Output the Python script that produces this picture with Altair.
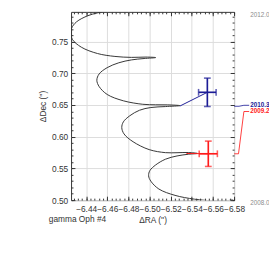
import altair as alt
import pandas as pd
import numpy as np

# ---- track (parallax + proper motion path) ----
track_ra = [-6.5792, -6.5700, -6.5608, -6.5425, -6.5241, -6.5088, -6.5012, -6.4991,
            -6.5003, -6.5058, -6.5150, -6.5260, -6.5370, -6.5452, -6.5370, -6.5260,
            -6.5150, -6.4996, -6.4844, -6.4758, -6.4737, -6.4752, -6.4813, -6.4905,
            -6.5012, -6.5150, -6.5287, -6.5168, -6.5058, -6.4936, -6.4752, -6.4599,
            -6.4523, -6.4501, -6.4523, -6.4599, -6.4709, -6.4828, -6.4948, -6.5058,
            -6.4966, -6.4828, -6.4672, -6.4507, -6.4354, -6.4269, -6.4257, -6.4262,
            -6.4308, -6.4416, -6.4507, -6.4599]
track_dec = [0.5003, 0.4987, 0.4987, 0.5015, 0.5075, 0.5175, 0.5299, 0.5384,
             0.5466, 0.5555, 0.5645, 0.5697, 0.5724, 0.5737, 0.5751, 0.5748,
             0.5749, 0.5797, 0.5921, 0.6045, 0.6145, 0.6234, 0.6331, 0.6418,
             0.6461, 0.6476, 0.6491, 0.6503, 0.6504, 0.6512, 0.6567, 0.6667,
             0.6791, 0.6891, 0.6991, 0.7090, 0.7167, 0.7212, 0.7234, 0.7249,
             0.7257, 0.7252, 0.7267, 0.7313, 0.7413, 0.7537, 0.7637, 0.7712,
             0.7812, 0.7910, 0.7954, 0.7988]

# ---- observations ----
obs_epoch = ["2009.2", "2010.3"]
obs_ra = [-6.5556, -6.5547]
obs_dec = [0.5731, 0.6701]
obs_ra_err = [0.0086, 0.0083]
obs_dec_err = [0.0200, 0.0224]
obs_track_ra = [-6.5349, -6.5287]
obs_track_dec = [0.5736, 0.6484]

# leader lines to the epoch labels (outside the frame)
leader_epoch = ["2009.2"] * 4 + ["2010.3"] * 4
leader_ra = [-6.5801, -6.5842, -6.5893, -6.5943, -6.5801, -6.5847, -6.5893, -6.5943]
leader_dec = [0.5731, 0.5731, 0.6398, 0.6398, 0.6481, 0.6481, 0.6496, 0.6496]
label_ra = [-6.5952, -6.5952]
label_dec = [0.6398, 0.6496]

edge_labels = ["2012.0", "2008.0"]
edge_ra = [-6.5952, -6.5952]
edge_dec = [0.7925, 0.4951]

x_major = [-6.44, -6.46, -6.48, -6.50, -6.52, -6.54, -6.56, -6.58]
x_minor = [round(-6.428 - 0.004 * k, 3) for k in range(39)]
y_major = [0.50, 0.55, 0.60, 0.65, 0.70, 0.75]
y_minor = [round(0.50 + 0.01 * k, 2) for k in range(30)]

W, H = 168, 194
INK = "#333333"

track_df = pd.DataFrame({"ra": track_ra, "dec": track_dec, "i": range(len(track_ra))})
obs_df = pd.DataFrame({"epoch": obs_epoch, "ra": obs_ra, "dec": obs_dec,
                       "ra_err": obs_ra_err, "dec_err": obs_dec_err})
obs_df["ra_lo"] = obs_df.ra - obs_df.ra_err
obs_df["ra_hi"] = obs_df.ra + obs_df.ra_err
obs_df["dec_lo"] = obs_df.dec - obs_df.dec_err
obs_df["dec_hi"] = obs_df.dec + obs_df.dec_err

conn_rows = []
for k, e in enumerate(obs_epoch):
    conn_rows.append({"epoch": e, "ra": obs_track_ra[k], "dec": obs_track_dec[k], "i": 0})
    conn_rows.append({"epoch": e, "ra": obs_ra[k], "dec": obs_dec[k], "i": 1})
conn_df = pd.DataFrame(conn_rows)

leader_df = pd.DataFrame({"epoch": leader_epoch, "ra": leader_ra, "dec": leader_dec,
                          "i": list(range(4)) * 2})
label_df = pd.DataFrame({"epoch": obs_epoch, "ra": label_ra, "dec": label_dec})
edge_df = pd.DataFrame({"t": edge_labels, "ra": edge_ra, "dec": edge_dec})

hcap_df = pd.DataFrame({"epoch": obs_epoch * 2, "ra": obs_ra * 2,
                        "dec": list(obs_df.dec_lo) + list(obs_df.dec_hi)})
vcap_df = pd.DataFrame({"epoch": obs_epoch * 2, "dec": obs_dec * 2,
                        "ra": list(obs_df.ra_lo) + list(obs_df.ra_hi)})

x_scale = alt.Scale(domain=[-6.58, -6.4257], reverse=True, nice=False, zero=False)
y_scale = alt.Scale(domain=[0.5, 0.797], nice=False, zero=False)
col = alt.Color("epoch:N", scale=alt.Scale(domain=obs_epoch, range=["#ff1a1a", "#1c1c96"]),
                legend=None)


def tick_axis(orient, values, size, **kw):
    return alt.Axis(orient=orient, values=values, offset=-size, tickSize=size,
                    tickColor=INK, tickWidth=1, domain=False, grid=False,
                    labels=False, title=None, **kw)


ax_grid_x = alt.Axis(orient="bottom", values=x_major, grid=True, gridColor="#dcdcdc",
                     gridWidth=1, ticks=False, labels=False, domain=False, title=None)
ax_grid_y = alt.Axis(orient="left", values=y_major, grid=True, gridColor="#dcdcdc",
                     gridWidth=1, ticks=False, labels=False, domain=False, title=None)

ax_major_x = alt.Axis(orient="bottom", values=x_major, offset=-4, tickSize=4,
                      tickColor=INK, domain=False, grid=False, format=".2f",
                      labelFontSize=8.6, labelColor=INK, labelPadding=5,
                      labelOverlap=False, labelFlush=False, labelBound=False,
                      title="ΔRA ('')", titleFontSize=8.6, titleFontWeight="normal",
                      titleColor=INK, titleX=W / 2, titleY=24, titleAlign="center",
                      titleBaseline="middle")
ax_major_y = alt.Axis(orient="left", values=y_major, offset=-4, tickSize=4,
                      tickColor=INK, domain=False, grid=False, format=".2f",
                      labelFontSize=8.6, labelColor=INK, labelPadding=3.4,
                      labelOverlap=False, labelFlush=False,
                      title="ΔDec ('')", titleFontSize=8.6, titleFontWeight="normal",
                      titleColor=INK, titleX=-33.5, titleY=H / 2, titleAngle=270,
                      titleAlign="center", titleBaseline="middle")

X = lambda f, axis: alt.X(f, type="quantitative", scale=x_scale, axis=axis, title=None)
Y = lambda f, axis: alt.Y(f, type="quantitative", scale=y_scale, axis=axis, title=None)

track = alt.Chart(track_df).mark_line(color=INK, strokeWidth=1, interpolate="catmull-rom",
                                      clip=True).encode(
    x=X("ra", ax_grid_x), y=Y("dec", ax_grid_y), order="i:Q")

conn = alt.Chart(conn_df).mark_line(strokeWidth=1).encode(
    x=X("ra", ax_major_x), y=Y("dec", ax_major_y), color=col, detail="epoch:N", order="i:Q")

vbar = alt.Chart(obs_df).mark_rule(strokeWidth=1.7).encode(
    x=X("ra", tick_axis("bottom", x_minor, 2)), y=Y("dec_lo", tick_axis("left", y_minor, 2)),
    y2="dec_hi", color=col)

hbar = alt.Chart(obs_df).mark_rule(strokeWidth=1.7).encode(
    x=X("ra_lo", tick_axis("top", x_major, 4)), x2="ra_hi",
    y=Y("dec", tick_axis("right", y_major, 4)), color=col)

hcap = alt.Chart(hcap_df).mark_tick(orient="horizontal", size=7, thickness=1.6).encode(
    x=X("ra", tick_axis("top", x_minor, 2)), y=Y("dec", tick_axis("right", y_minor, 2)),
    color=col)

vcap = alt.Chart(vcap_df).mark_tick(orient="vertical", size=7, thickness=1.6).encode(
    x=X("ra", None), y=Y("dec", None), color=col)

leader = alt.Chart(leader_df).mark_line(strokeWidth=1, opacity=0.85).encode(
    x=X("ra", None), y=Y("dec", None), color=col, detail="epoch:N", order="i:Q")

labels = alt.Chart(label_df).mark_text(align="left", baseline="middle", fontSize=6.5,
                                       fontWeight="bold").encode(
    x=X("ra", None), y=Y("dec", None), text="epoch:N", color=col)

edges = alt.Chart(edge_df).mark_text(align="left", baseline="middle", fontSize=6.5,
                                     color="#8c8c8c").encode(
    x=X("ra", None), y=Y("dec", None), text="t:N")

name = alt.Chart(pd.DataFrame({"t": ["gamma Oph #4"]})).mark_text(
    align="left", baseline="middle", fontSize=8.6, color=INK).encode(
    x=alt.value(-23), y=alt.value(214), text="t:N")

chart = alt.layer(track, conn, vbar, hbar, hcap, vcap, leader, labels, edges, name).resolve_axis(
    x="independent", y="independent"
).properties(
    width=W, height=H,
    autosize=alt.AutoSizeParams(type="none"),
    padding={"left": 65, "top": 0, "right": 36, "bottom": 67},
).configure(font="Liberation Sans").configure_view(stroke=INK, strokeWidth=1)

chart.save("out.html", embed_options={"renderer": "svg", "actions": False})
